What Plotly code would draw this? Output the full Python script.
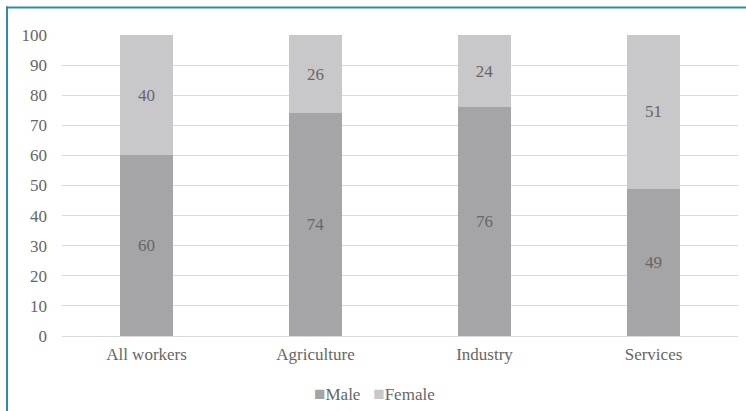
import plotly.graph_objects as go

categories = ["All workers", "Agriculture", "Industry", "Services"]
male = [60, 74, 76, 49]
female = [40, 26, 24, 51]
y_ticks = list(range(0, 101, 10))
series_names = ["Male", "Female"]
series_colors = ["#A5A5A7", "#C8C8CA"]

W, H = 746, 411
ML, MR, MT, MB = 62, 8, 35, 75
PW, PH = W - ML - MR, H - MT - MB

TEXT = "#666666"
FONT = "Liberation Serif"
SIZE = 17

fig = go.Figure()
for name, vals, color in zip(series_names, [male, female], series_colors):
    fig.add_bar(
        x=categories, y=vals, name=name,
        marker=dict(color=color, line=dict(width=0)),
        text=[str(v) for v in vals], textposition="inside",
        insidetextanchor="middle",
        textfont=dict(family=FONT, size=SIZE, color=TEXT),
        showlegend=False,
    )


def px_x(p):
    return (p - ML) / PW


def px_y(p):
    return 1 - (p - MT) / PH


# compact legend row below the axis
legend_html = "&nbsp;&nbsp;&nbsp;".join(
    f"<span style='color:{c};font-size:19px'>■</span>{n}"
    for n, c in zip(series_names, series_colors)
)
fig.add_annotation(
    xref="paper", yref="paper", x=px_x(374), y=px_y(393),
    xanchor="center", yanchor="middle",
    text=legend_html, showarrow=False,
    font=dict(family=FONT, size=SIZE, color=TEXT),
)

# frame lines along the top and left edges
frame = "#2A8DB0"
fig.add_shape(type="line", xref="paper", yref="paper",
              x0=px_x(6), x1=px_x(W), y0=px_y(7.5), y1=px_y(7.5),
              line=dict(color=frame, width=2))
fig.add_shape(type="line", xref="paper", yref="paper",
              x0=px_x(7), x1=px_x(7), y0=px_y(6.5), y1=px_y(H),
              line=dict(color=frame, width=2))

fig.update_layout(
    width=W, height=H,
    margin=dict(l=ML, r=MR, t=MT, b=MB),
    paper_bgcolor="white", plot_bgcolor="white",
    barmode="stack", bargap=0.69,
    font=dict(family=FONT, size=SIZE, color=TEXT),
    showlegend=False,
    uniformtext=dict(mode=False),
)
fig.update_xaxes(showgrid=False, showline=False, ticks="",
                 tickfont=dict(family=FONT, size=SIZE, color=TEXT),
                 ticklabelstandoff=6)
fig.update_yaxes(range=[0, 100], tickvals=y_ticks,
                 showgrid=True, gridcolor="#D9D9D9", gridwidth=1,
                 zeroline=True, zerolinecolor="#D9D9D9", zerolinewidth=1,
                 showline=False, ticks="",
                 tickfont=dict(family=FONT, size=SIZE, color=TEXT),
                 ticklabelstandoff=14)

fig.write_html("out.html")
